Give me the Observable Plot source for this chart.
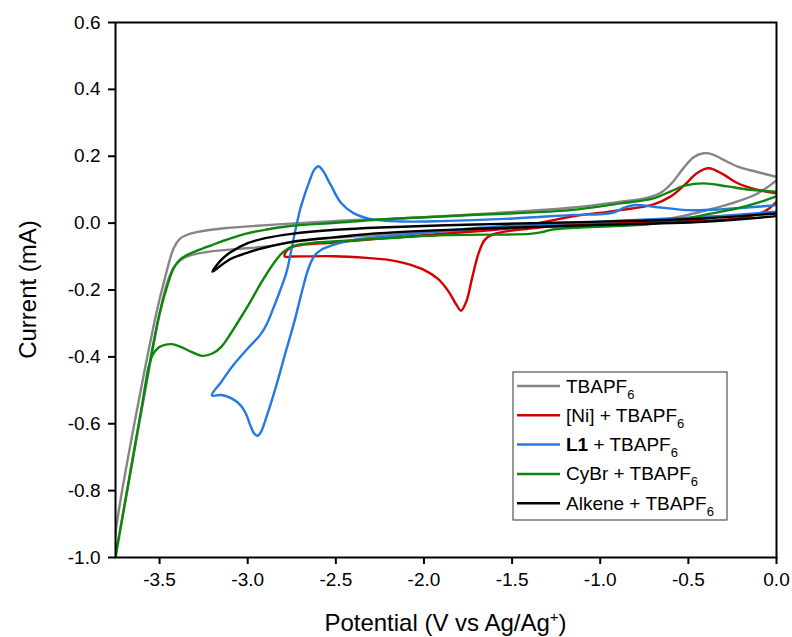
<!DOCTYPE html>
<html><head><meta charset="utf-8">
<script src="https://cdn.jsdelivr.net/npm/d3@7"></script>
<script src="https://cdn.jsdelivr.net/npm/@observablehq/plot@0.6"></script>
<style>body{margin:0;background:#fff}#chart{width:792px;height:637px}</style>
</head><body><div id="chart"></div>
<script>
// Potential (V) , Current (mA) pairs, in scan order
const tbapf6 = [
 [0,0.138],[-0.11,0.153],[-0.22,0.169],[-0.3,0.189],[-0.36,0.205],[-0.413,0.209],[-0.47,0.197],[-0.53,0.163],
 [-0.59,0.122],[-0.65,0.093],[-0.73,0.076],[-0.886,0.064],[-1.17,0.046],[-1.6,0.03],[-2.135,0.014],
 [-2.516,0.006],[-2.892,-0.006],[-3.146,-0.016],[-3.271,-0.025],[-3.34,-0.034],[-3.385,-0.047],
 [-3.42,-0.075],[-3.468,-0.161],[-3.525,-0.285],[-3.75,-0.93],[-3.75,-0.97],[-3.505,-0.285],
 [-3.455,-0.175],[-3.412,-0.127],[-3.354,-0.102],[-3.241,-0.087],[-3.05,-0.077],[-2.892,-0.07],
 [-2.703,-0.053],[-2.4,-0.04],[-2.135,-0.031],[-1.567,-0.017],[-1.0,-0.004],[-0.8,0.004],[-0.602,0.014],
 [-0.415,0.036],[-0.261,0.058],[-0.11,0.088],[0,0.128]
];
const niTbapf6 = [
 [0,0.089],[-0.11,0.1],[-0.223,0.12],[-0.3,0.145],[-0.384,0.164],[-0.45,0.15],[-0.52,0.115],
 [-0.6,0.08],[-0.697,0.056],[-0.886,0.039],[-1.17,0.019],[-1.302,0.005],[-1.492,-0.014],[-1.87,-0.031],
 [-2.249,-0.046],[-2.514,-0.058],[-2.703,-0.066],[-2.76,-0.074],[-2.785,-0.087],[-2.79,-0.1],[-2.75,-0.1],
 [-2.514,-0.099],[-2.324,-0.104],[-2.2,-0.11],[-2.1,-0.121],[-2.0,-0.14],[-1.92,-0.167],
 [-1.86,-0.205],[-1.815,-0.245],[-1.79,-0.262],[-1.76,-0.235],[-1.725,-0.16],[-1.69,-0.09],[-1.655,-0.05],
 [-1.605,-0.033],[-1.4,-0.016],[-1.17,-0.004],[-0.602,0.004],[-0.223,0.014],[-0.072,0.034],[0,0.064]
];
const l1Tbapf6 = [
 [0,0.054],[-0.11,0.049],[-0.318,0.041],[-0.507,0.039],[-0.697,0.049],[-0.8,0.054],[-0.86,0.047],
 [-0.93,0.031],[-1.17,0.024],[-1.492,0.014],[-1.9,0.006],[-2.135,0.005],[-2.3,0.012],[-2.4,0.03],
 [-2.47,0.06],[-2.53,0.115],[-2.575,0.158],[-2.599,0.17],[-2.622,0.16],[-2.65,0.125],[-2.68,0.08],
 [-2.703,0.04],[-2.741,-0.05],[-2.779,-0.145],[-2.815,-0.2],[-2.855,-0.255],[-2.89,-0.3],[-2.93,-0.335],
 [-3.0,-0.375],[-3.082,-0.425],[-3.15,-0.475],[-3.203,-0.515],[-3.15,-0.514],[-3.089,-0.525],
 [-3.04,-0.545],[-3.01,-0.57],[-2.985,-0.605],[-2.962,-0.63],[-2.945,-0.636],[-2.925,-0.625],
 [-2.9,-0.59],[-2.843,-0.495],[-2.787,-0.39],[-2.733,-0.29],[-2.69,-0.2],[-2.655,-0.135],
 [-2.62,-0.097],[-2.58,-0.079],[-2.52,-0.066],[-2.419,-0.052],[-2.135,-0.036],[-1.681,-0.014],
 [-1.17,0.0],[-0.602,0.014],[-0.3,0.022],[0,0.034]
];
const cybrTbapf6 = [
 [0,0.094],[-0.15,0.1],[-0.28,0.11],[-0.413,0.119],[-0.52,0.112],[-0.6,0.095],[-0.698,0.074],[-0.886,0.059],
 [-1.17,0.039],[-1.7,0.025],[-2.249,0.011],[-2.5,0.001],[-2.748,-0.008],[-2.892,-0.019],[-3.014,-0.032],
 [-3.15,-0.055],[-3.25,-0.075],[-3.33,-0.092],[-3.38,-0.107],[-3.42,-0.135],[-3.458,-0.191],[-3.505,-0.281],
 [-3.75,-1.0],[-3.595,-0.53],[-3.578,-0.475],[-3.562,-0.43],[-3.54,-0.395],[-3.505,-0.372],[-3.47,-0.364],
 [-3.43,-0.362],[-3.38,-0.37],[-3.32,-0.385],[-3.26,-0.397],[-3.2,-0.39],[-3.15,-0.37],
 [-3.1,-0.333],[-3.04,-0.283],[-2.987,-0.237],[-2.92,-0.175],[-2.855,-0.122],[-2.8,-0.087],[-2.74,-0.068],
 [-2.65,-0.06],[-2.516,-0.055],[-2.135,-0.043],[-1.87,-0.036],[-1.4,-0.032],[-1.33,-0.027],[-1.28,-0.02],
 [-1.113,-0.013],[-0.791,-0.006],[-0.6,0.005],[-0.413,0.024],[-0.223,0.044],[-0.1,0.062],[0,0.08]
];
const alkeneTbapf6 = [
 [0,0.029],[-0.413,0.014],[-1.113,0.003],[-1.7,-0.004],[-2.25,-0.013],[-2.5,-0.02],[-2.75,-0.032],
 [-2.9,-0.045],[-3.0,-0.06],[-3.1,-0.088],[-3.15,-0.11],[-3.2,-0.145],[-3.15,-0.126],[-3.1,-0.108],
 [-3.0,-0.088],[-2.9,-0.073],[-2.75,-0.056],[-2.5,-0.042],[-2.25,-0.03],[-1.7,-0.017],[-1.113,-0.007],
 [-0.413,0.004],[0,0.021]
];
const seriesNames = ["TBAPF6","[Ni] + TBAPF6","L1 + TBAPF6","CyBr + TBAPF6","Alkene + TBAPF6"];
const seriesData = [tbapf6, niTbapf6, l1Tbapf6, cybrTbapf6, alkeneTbapf6];
const seriesColors = ["#858585","#d40000","#2479e2","#0b870b","#000000"];
const xTicks = [-3.5,-3.0,-2.5,-2.0,-1.5,-1.0,-0.5,0.0];
const yTicks = [-1.0,-0.8,-0.6,-0.4,-0.2,0.0,0.2,0.4,0.6];

const fontFamily = "'Liberation Sans', Arial, Helvetica, sans-serif";

const chart = Plot.plot({
  width: 792, height: 637,
  marginLeft: 115, marginRight: 16, marginTop: 22, marginBottom: 80,
  style: {fontFamily, fontSize: "19px", color: "#000", background: "#fff"},
  x: {domain: [-3.75, 0]},
  y: {domain: [-1.0, 0.6]},
  marks: [
    ...seriesData.map((data, k) => Plot.line(data, {
      x: d => d[0], y: d => d[1], stroke: seriesColors[k], strokeWidth: 2.4,
      curve: "catmull-rom", clip: true
    })),
    Plot.frame({stroke: "#000", strokeWidth: 2}),
    Plot.axisX({ticks: xTicks, tickSize: 7, tickPadding: 8, strokeWidth: 2,
      tickFormat: d => d.toFixed(1), fontSize: 19, label: null}),
    Plot.axisY({ticks: yTicks, tickSize: 7, tickPadding: 8, strokeWidth: 2,
      tickFormat: d => d.toFixed(1), fontSize: 19, label: null})
  ]
});
document.getElementById("chart").appendChild(chart);

const svg = d3.select(chart);
// axis titles
svg.append("text")
  .attr("transform", "translate(27,289.5) rotate(-90)")
  .attr("text-anchor", "middle").attr("dominant-baseline", "central")
  .attr("font-family", fontFamily).attr("font-size", 24).attr("fill", "#000")
  .text("Current (mA)");
const xl = svg.append("text")
  .attr("x", 445.5).attr("y", 631)
  .attr("text-anchor", "middle")
  .attr("font-family", fontFamily).attr("font-size", 24).attr("fill", "#000");
xl.append("tspan").text("Potential (V vs Ag/Ag");
xl.append("tspan").attr("dy", -9).attr("font-size", 15).text("+");
xl.append("tspan").attr("dy", 9).text(")");

// legend
const lg = svg.append("g").attr("font-family", fontFamily).attr("font-size", 19)
  .attr("text-anchor", "start");
lg.append("rect").attr("x", 513).attr("y", 372).attr("width", 214).attr("height", 148)
  .attr("fill", "#fff").attr("stroke", "#333").attr("stroke-width", 1);
seriesNames.forEach((name, i) => {
  const y = 386 + i * 29.3;
  lg.append("line").attr("x1", 517).attr("x2", 560).attr("y1", y).attr("y2", y)
    .attr("stroke", seriesColors[i]).attr("stroke-width", 2.5);
  const t = lg.append("text").attr("x", 566).attr("y", y + 6.5).attr("fill", "#000")
    .attr("text-anchor", "start");
  const base = name.replace(/6$/, "");
  if (base.startsWith("L1")) {
    t.append("tspan").attr("font-weight", "bold").text("L1");
    t.append("tspan").text(base.slice(2));
  } else {
    t.append("tspan").text(base);
  }
  t.append("tspan").attr("dy", 6).attr("font-size", 13).text("6");
});
</script>
</body></html>
